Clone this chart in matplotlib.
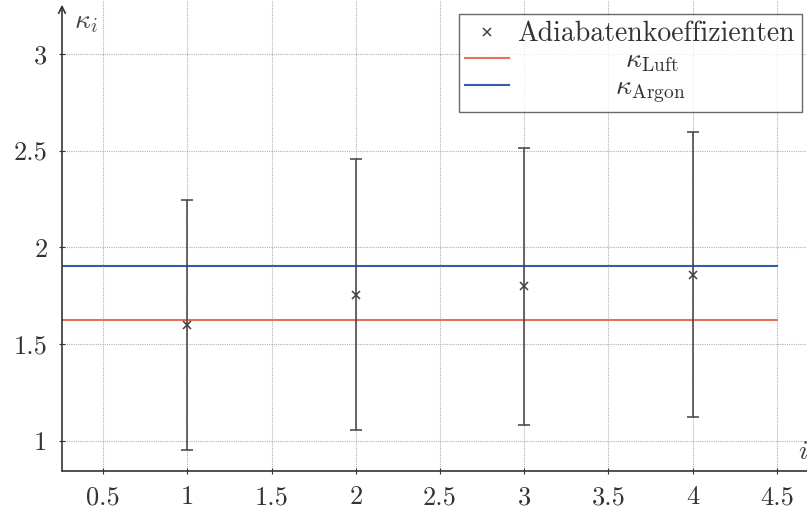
import matplotlib
matplotlib.use("Agg")
import matplotlib.pyplot as plt

plt.rcParams['font.family'] = 'serif'
plt.rcParams['font.serif'] = ['cmr10']
plt.rcParams['mathtext.fontset'] = 'cm'
plt.rcParams['axes.formatter.use_mathtext'] = True

# data
messung = [1, 2, 3, 4]
kappa = [1.60, 1.755, 1.80, 1.86]
err_low = [0.955, 1.057, 1.085, 1.125]
err_high = [2.247, 2.455, 2.515, 2.598]
kappa_luft = 1.624
kappa_argon = 1.902
line_x = [0.255, 4.5]
xticks = [0.5, 1, 1.5, 2, 2.5, 3, 3.5, 4, 4.5]
xticklabels = ['0.5', '1', '1.5', '2', '2.5', '3', '3.5', '4', '4.5']
yticks = [1, 1.5, 2, 2.5, 3]
yticklabels = ['1', '1.5', '2', '2.5', '3']

W, H = 807, 509
fig = plt.figure(figsize=(W / 100, H / 100), dpi=100)
ax = fig.add_axes([62 / W, 38 / H, (W - 62) / W, (H - 38) / H])
ax.set_xlim(0.255, 4.68)
ax.set_ylim(0.845, 3.278)

ax.grid(True, linestyle=(0, (1, 1)), color='#b0b0b8', linewidth=0.8)
ax.set_axisbelow(True)

ax.plot(line_x, [kappa_luft] * 2, color='#e8705a', linewidth=1.5, label=r'$\hspace{4.45}\kappa_{\mathrm{Luft}}$')
ax.plot(line_x, [kappa_argon] * 2, color='#3a5ab0', linewidth=1.5, label=r'$\hspace{4.05}\kappa_{\mathrm{Argon}}$')

yerr = [[k - l for k, l in zip(kappa, err_low)], [h - k for h, k in zip(err_high, kappa)]]
ax.errorbar(messung, kappa, yerr=yerr, fmt='none', ecolor='#404040', elinewidth=1.1, capsize=4, capthick=1.1)
ax.plot(messung, kappa, linestyle='none', marker='x', color='#404040', markersize=6, markeredgewidth=1.1, label='Adiabatenkoeffizienten')

ax.set_xticks(xticks)
ax.set_xticklabels(xticklabels)
ax.set_yticks(yticks)
ax.set_yticklabels(yticklabels)
ax.tick_params(direction='inout', length=5, width=0.8, labelsize=19, colors='#333333', pad=8)

for s in ['top', 'right', 'left', 'bottom']:
    ax.spines[s].set_visible(False)
ax.annotate('', xy=(0, 0.99), xytext=(0, 0), xycoords='axes fraction', textcoords='axes fraction',
            arrowprops=dict(arrowstyle='->', color='#333333', linewidth=1.2, shrinkA=0, shrinkB=0, mutation_scale=12))
ax.annotate('', xy=(1.02, 0), xytext=(0, 0), xycoords='axes fraction', textcoords='axes fraction',
            arrowprops=dict(arrowstyle='->', color='#333333', linewidth=1.2, shrinkA=0, shrinkB=0, mutation_scale=12),
            annotation_clip=False)

ax.text(0.016, 0.953, r'$\kappa_i$', transform=ax.transAxes, fontsize=20, color='#444444', va='center', ha='left')
ax.text(0.988, 0.04, r'$i$', transform=ax.transAxes, fontsize=20, color='#444444', va='center', ha='left', clip_on=False)

h, l = ax.get_legend_handles_labels()
order = [2, 0, 1]
leg = ax.legend([h[i] for i in order], [l[i] for i in order], loc='upper right',
                bbox_to_anchor=((802 - 62) / (W - 62), (471 - 14) / 471), borderaxespad=0,
                fontsize=20, frameon=True, fancybox=False, edgecolor='#444444',
                handlelength=1.55, handletextpad=0.32, borderpad=0.25, labelspacing=0.0)
leg.get_frame().set_linewidth(1.0)
for t in leg.get_texts():
    t.set_color('#333333')

fig.savefig('out.png', dpi=100)
